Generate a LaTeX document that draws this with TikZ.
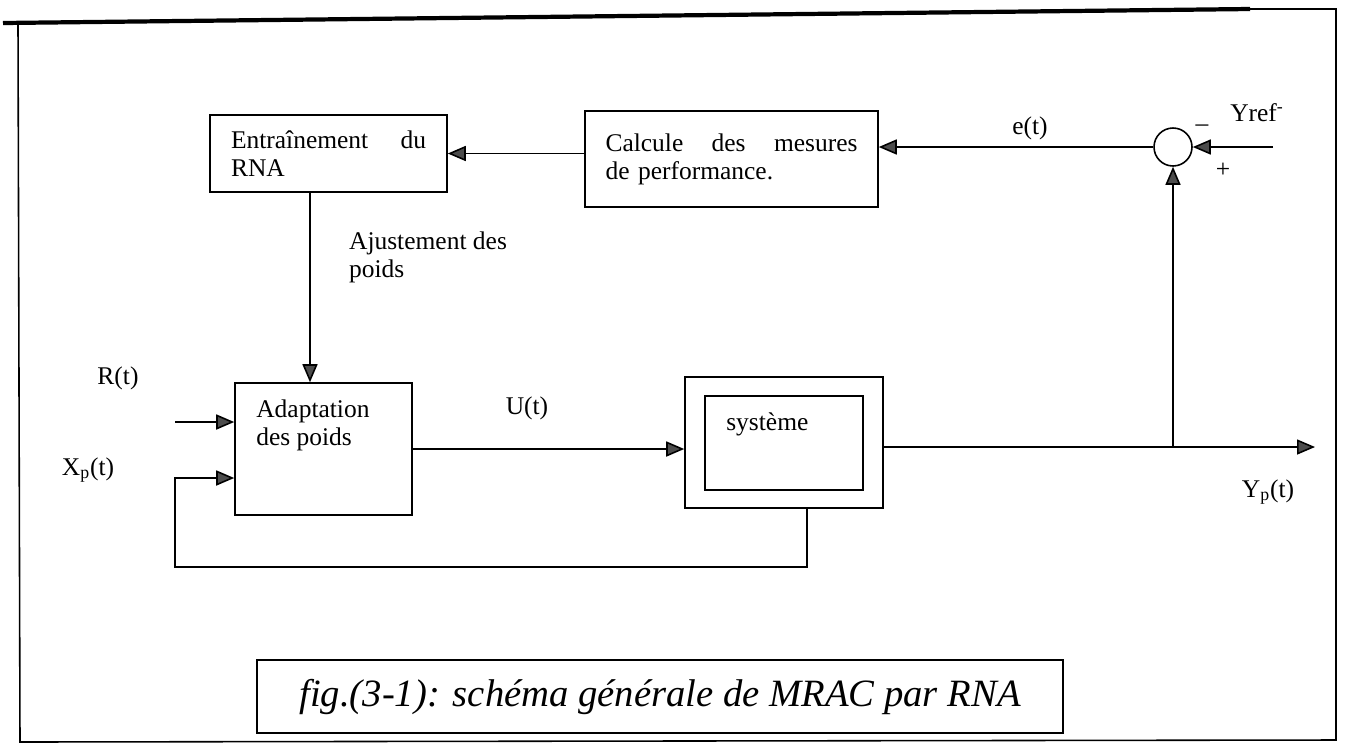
\documentclass[tikz,border=0pt]{standalone}
\usepackage{fontspec}
\setmainfont{Liberation Serif}
\usetikzlibrary{arrows.meta,positioning}
\begin{document}
\begin{tikzpicture}[x=0.02cm,y=-0.02cm,
    block/.style={draw,line width=0.9pt,rectangle,inner sep=0pt},
    sumnode/.style={draw,line width=0.9pt,circle,minimum size=0.76cm,inner sep=0pt},
    wire/.style={line width=0.9pt},
    arr/.style={wire,-{Triangle[length=0.36cm,width=0.3cm,fill=black!70]}},
    lbl/.style={font=\fontsize{14.5}{16}\selectfont,inner sep=1pt}]
\useasboundingbox (0,0) rectangle (1345,755);
% cadre
\draw[line width=2.4pt] (3,23) -- (1250,9);
\draw[wire] (1250,9) -- (1336,9) -- (1336,740) -- (20,742) -- (18,22);

% blocs
\node[block,lbl,minimum width=4.74cm,minimum height=1.54cm,text width=3.9cm,align=left] (train) at (328.5,153.5) {Entraînement\hfill du\\RNA};
\node[block,lbl,minimum width=5.86cm,minimum height=1.92cm,text width=5.04cm,align=left] (calc) at (731.5,159) {Calcule\hfill des\hfill mesures\\de performance.};
\node[sumnode] (sum) at (1173,147) {};
\node[block,minimum width=3.54cm,minimum height=2.64cm] (adapt) at (323.5,449) {};
\node[lbl,anchor=north west,align=left] (adapttxt) at ([shift={(0.4cm,-0.3cm)}]adapt.north west) {Adaptation\\des poids};
\node[block,minimum width=3.96cm,minimum height=2.62cm] (sys) at (784,442.5) {};
\node[block,minimum width=3.16cm,minimum height=1.88cm] (sysin) at (784,443) {};
\node[lbl,anchor=north west] (systxt) at ([shift={(0.4cm,-0.3cm)}]sysin.north west) {système};
\node[block,minimum width=16.12cm,minimum height=1.46cm,font=\fontsize{22}{26}\selectfont\itshape] (caption) at (660,696.5) {fig.(3-1): schéma générale de MRAC par RNA};

% textes
\node[lbl] (et) at (1030,128) {e(t)};
\node[lbl] (yref) at (1257,113) {Yref\textsuperscript{-}};
\node[lbl] (minus) at (1202,128) {\textendash};
\node[lbl] (plus) at (1223,170) {+};
\node[lbl,anchor=west,align=left] (ajust) at (347,257) {Ajustement des\\poids};
\node[lbl] (rt) at (118,378) {R(t)};
\node[lbl] (xp) at (88,470) {X\textsubscript{p}(t)};
\node[lbl] (ut) at (527,408) {U(t)};
\node[lbl] (yp) at (1268,492) {Y\textsubscript{p}(t)};

% liaisons
\coordinate (yr) at (1273,147);
\coordinate (rin) at (175,422);
\coordinate (yout) at (1315,447);
\coordinate (fbl) at (175,567);
\coordinate (fbin) at (175,478);
\coordinate (wt) at (310,0);
\coordinate (fbx) at (807,0);
\draw[arr] (yr) -- (sum.east);
\draw[arr] (sum.west) -- (sum.west -| calc.east);
\draw[arr] (calc.west |- train.east) -- (train.east);
\draw[arr] (train.south -| wt) -- (adapt.north -| wt);
\draw[arr] (rin) -- (rin -| adapt.west);
\draw[arr] (adapt.east) -- (adapt.east -| sys.west);
\draw[arr] (sys.east |- yout) -- (yout);
\draw[arr] (sum.south |- yout) -- (sum.south);
\draw[arr] (sys.south -| fbx) -- (fbx |- fbl) -- (fbl) -- (fbin) -- (fbin -| adapt.west);
\end{tikzpicture}
\end{document}
